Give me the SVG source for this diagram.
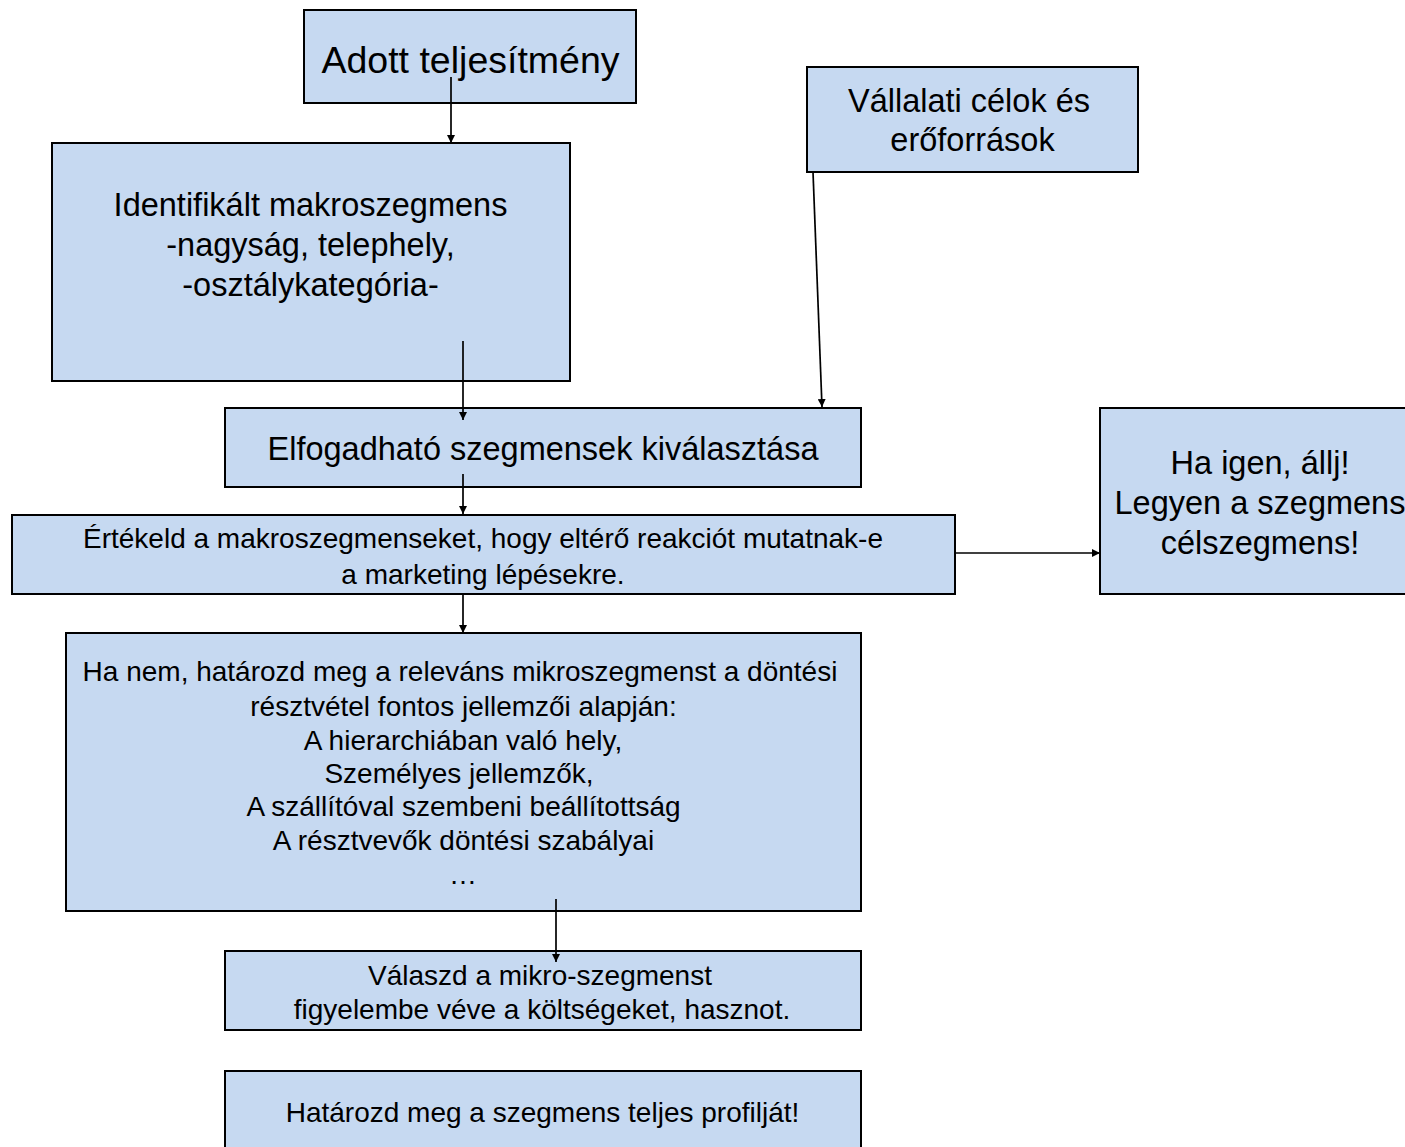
<svg xmlns="http://www.w3.org/2000/svg" width="1405" height="1147" viewBox="0 0 1405 1147">
<style>
.box{fill:#C6D9F1;stroke:#000;stroke-width:2}
text{font-family:"Liberation Sans",Arial,sans-serif;fill:#000;text-anchor:middle}
.t37{font-size:37.5px}
.t32{font-size:32.5px}
.t28{font-size:28px}
.c{stroke:#000;stroke-width:1.7;fill:none;marker-end:url(#ah)}
</style>
<defs>
<marker id="ah" viewBox="0 0 10 10" refX="10" refY="5" markerWidth="8" markerHeight="8" markerUnits="userSpaceOnUse" orient="auto"><path d="M0,0 L10,5 L0,10 z" fill="#000"/></marker>
</defs>
<rect x="0" y="0" width="1405" height="1147" fill="#fff"/>
<g id="n1"><rect class="box" x="304" y="10" width="332" height="93"/><text class="t37" x="470.5" y="73">Adott teljesítmény</text></g>
<g id="n2"><rect class="box" x="52" y="143" width="518" height="238"/><text class="t32" x="310.5" y="216">Identifikált makroszegmens</text><text class="t32" x="310.5" y="256">-nagyság, telephely,</text><text class="t32" x="310.5" y="296">-osztálykategória-</text></g>
<g id="n3"><rect class="box" x="807" y="67" width="331" height="105"/><text class="t32" x="969" y="112">Vállalati célok és</text><text class="t32" x="972.5" y="151">erőforrások</text></g>
<g id="n4"><rect class="box" x="225" y="408" width="636" height="79"/><text class="t32" x="543" y="460">Elfogadható szegmensek kiválasztása</text></g>
<g id="n5"><rect class="box" x="12" y="515" width="943" height="79"/><text class="t28" x="483" y="548">Értékeld a makroszegmenseket, hogy eltérő reakciót mutatnak-e</text><text class="t28" x="483" y="584">a marketing lépésekre.</text></g>
<g id="n6"><rect class="box" x="1100" y="408" width="315" height="186"/><text class="t32" x="1260" y="474">Ha igen, állj!</text><text class="t32" x="1260" y="514">Legyen a szegmens</text><text class="t32" x="1260" y="554">célszegmens!</text></g>
<g id="n7"><rect class="box" x="66" y="633" width="795" height="278"/>
<text class="t28" x="460" y="681">Ha nem, határozd meg a releváns mikroszegmenst a döntési</text>
<text class="t28" x="463.5" y="716">résztvétel fontos jellemzői alapján:</text>
<text class="t28" x="463" y="750">A hierarchiában való hely,</text>
<text class="t28" x="459" y="783">Személyes jellemzők,</text>
<text class="t28" x="463.5" y="816">A szállítóval szembeni beállítottság</text>
<text class="t28" x="463.5" y="850">A résztvevők döntési szabályai</text>
<text class="t28" x="463" y="884">…</text></g>
<g id="n8"><rect class="box" x="225" y="951" width="636" height="79"/><text class="t28" x="540" y="985">Válaszd a mikro-szegmenst</text><text class="t28" x="542" y="1019">figyelembe véve a költségeket, hasznot.</text></g>
<g id="n9"><rect class="box" x="225" y="1071" width="636" height="90"/><text class="t28" x="542.5" y="1122">Határozd meg a szegmens teljes profilját!</text></g>
<g id="connectors">
<line class="c" x1="451" y1="77" x2="451" y2="143"/>
<line class="c" x1="463" y1="341" x2="463" y2="420"/>
<line class="c" x1="813" y1="172" x2="822" y2="407"/>
<line class="c" x1="463" y1="474" x2="463" y2="514"/>
<line class="c" x1="955" y1="553" x2="1100" y2="553"/>
<line class="c" x1="463" y1="594" x2="463" y2="633"/>
<line class="c" x1="556" y1="899" x2="556" y2="962"/>
</g>
</svg>
